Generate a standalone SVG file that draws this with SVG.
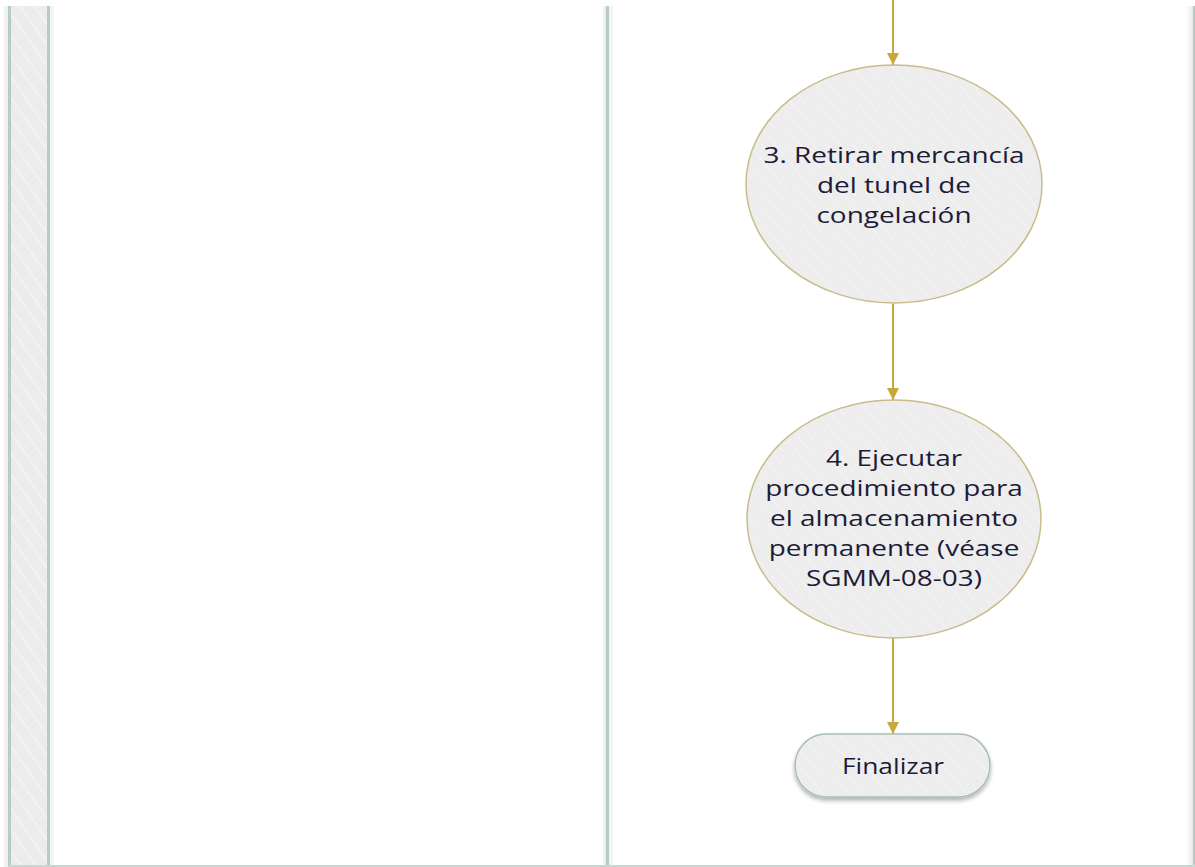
<svg xmlns="http://www.w3.org/2000/svg" width="1195" height="867" viewBox="0 0 1195 867">
  <defs>
    <pattern id="hatch" patternUnits="userSpaceOnUse" width="12" height="12" patternTransform="rotate(-35)">
      <rect width="12" height="12" fill="#ececec"/>
      <line x1="0" y1="0" x2="0" y2="12" stroke="#f4f4f4" stroke-width="3"/>
    </pattern>
    <pattern id="hatchLight" patternUnits="userSpaceOnUse" width="10" height="10" patternTransform="rotate(-40)">
      <rect width="10" height="10" fill="#ededed"/>
      <line x1="0" y1="0" x2="0" y2="10" stroke="#f3f3f3" stroke-width="2"/>
    </pattern>
    <marker id="arrow" viewBox="0 0 12 12" refX="12" refY="6" markerWidth="12" markerHeight="12" markerUnits="userSpaceOnUse" orient="auto">
      <path d="M0,0 L12,6 L0,12 Z" fill="#c8a83a"/>
    </marker>
    <filter id="shadow" x="-20%" y="-20%" width="140%" height="160%">
      <feGaussianBlur in="SourceAlpha" stdDeviation="2"/>
      <feOffset dx="0" dy="3"/>
      <feComponentTransfer><feFuncA type="linear" slope="0.3"/></feComponentTransfer>
      <feMerge><feMergeNode/><feMergeNode in="SourceGraphic"/></feMerge>
    </filter>
    <linearGradient id="laneEdge" x1="0" x2="1">
      <stop offset="0" stop-color="#ffffff" stop-opacity="0"/>
      <stop offset="1" stop-color="#e6e6e6"/>
    </linearGradient>
  </defs>
  <style>
    .lane-line { fill: #b9cbc6; }
    .node-text { font-family: "Open Sans", "Noto Sans", "DejaVu Sans", sans-serif; font-size: 22px; fill: #1c1c38; text-anchor: middle; }
    .activity { fill: url(#hatchLight); stroke: #c9bb8c; stroke-width: 1.5; }
    .terminator { fill: url(#hatchLight); stroke: #a9bdb7; stroke-width: 1.5; }
    .flow { stroke: #c8a83a; stroke-width: 2; fill: none; marker-end: url(#arrow); }
  </style>

  <rect width="1195" height="867" fill="#ffffff"/>

  <!-- swimlane frame -->
  <g id="lanes">
    <rect x="4" y="6" width="4" height="861" fill="#f1f1f1"/>
    <rect x="8" y="6" width="42" height="861" fill="url(#hatch)"/>
    <rect x="8" y="6" width="3" height="861" class="lane-line"/>
    <rect x="47" y="6" width="3" height="861" class="lane-line"/>
    <rect x="50" y="6" width="4" height="861" fill="#f3f3f3"/>
    <rect x="600" y="6" width="6" height="861" fill="url(#laneEdge)"/>
    <rect x="606" y="6" width="3" height="861" class="lane-line"/>
    <rect x="609" y="6" width="4" height="861" fill="#f4f4f4"/>
    <rect x="1184" y="6" width="9" height="861" fill="url(#laneEdge)"/>
    <rect x="1193" y="6" width="2" height="861" class="lane-line"/>
    <rect x="8" y="865" width="1187" height="2" fill="#c9d6d2"/>
  </g>

  <!-- connectors -->
  <g id="connectors">
    <line class="flow" x1="893" y1="0" x2="893" y2="65"/>
    <line class="flow" x1="893" y1="304" x2="893" y2="400"/>
    <line class="flow" x1="893" y1="638" x2="893" y2="734"/>
  </g>

  <g id="step3">
    <ellipse class="activity" cx="894" cy="184" rx="148" ry="119"/>
    <g transform="translate(894 0) scale(1.27 1)">
      <text class="node-text" x="0" y="163">3. Retirar mercancía</text>
      <text class="node-text" x="0" y="193">del tunel de</text>
      <text class="node-text" x="0" y="223">congelación</text>
    </g>
  </g>

  <g id="step4">
    <ellipse class="activity" cx="894" cy="519" rx="147" ry="119"/>
    <g transform="translate(894 0) scale(1.27 1)">
      <text class="node-text" x="0" y="466">4. Ejecutar</text>
      <text class="node-text" x="0" y="496">procedimiento para</text>
      <text class="node-text" x="0" y="526">el almacenamiento</text>
      <text class="node-text" x="0" y="556">permanente (véase</text>
      <text class="node-text" x="0" y="586">SGMM-08-03)</text>
    </g>
  </g>

  <g id="end">
    <rect class="terminator" x="795" y="734" width="195" height="63" rx="31.5" filter="url(#shadow)"/>
    <g transform="translate(893 0) scale(1.2 1)">
      <text class="node-text" x="0" y="774">Finalizar</text>
    </g>
  </g>
</svg>
